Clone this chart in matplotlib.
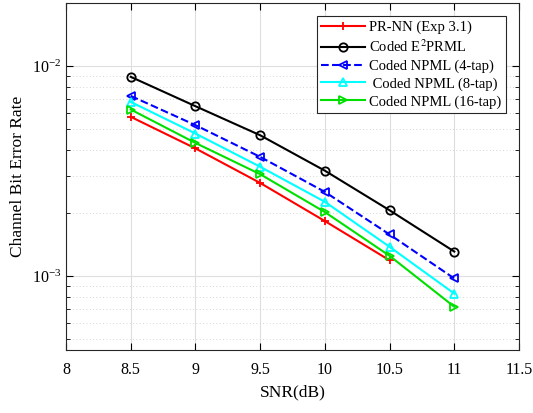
import numpy as np
import matplotlib.pyplot as plt
from matplotlib.ticker import LogLocator, NullFormatter

plt.rcParams['font.family'] = ['Liberation Serif', 'DejaVu Serif']
plt.rcParams['mathtext.fontset'] = 'stix'

snr = [8.5, 9, 9.5, 10, 10.5, 11]
snr_prnn = [8.5, 9, 9.5, 10, 10.5]

ber_prnn = [5.74e-3, 4.06e-3, 2.78e-3, 1.83e-3, 1.19e-3]
ber_e2prml = [8.9e-3, 6.45e-3, 4.69e-3, 3.18e-3, 2.06e-3, 1.31e-3]
ber_npml4 = [7.22e-3, 5.24e-3, 3.70e-3, 2.52e-3, 1.58e-3, 9.75e-4]
ber_npml8 = [6.76e-3, 4.78e-3, 3.32e-3, 2.26e-3, 1.38e-3, 8.26e-4]
ber_npml16 = [6.22e-3, 4.31e-3, 3.06e-3, 2.02e-3, 1.25e-3, 7.15e-4]

fig = plt.figure(figsize=(5.33, 4.13), dpi=100)
ax = fig.add_axes([66/533, 1-350/413, (519-66)/533, (350-3)/413])

ms = 6
lw = 1.5
mew = 1.3
ax.semilogy(snr_prnn, ber_prnn, '-', color='red', marker='+', ms=ms, lw=lw, mew=mew,
            label='PR-NN (Exp 3.1)')
ax.semilogy(snr, ber_e2prml, '-', color='black', marker='o', ms=ms, lw=lw, mew=mew,
            mfc='none', label='Coded E$^{2}$PRML')
ax.semilogy(snr, ber_npml4, '--', color='blue', marker='<', ms=ms, lw=lw, mew=mew,
            mfc='none', label='Coded NPML (4-tap)')
ax.semilogy(snr, ber_npml8, '-', color='cyan', marker='^', ms=ms, lw=lw, mew=mew,
            mfc='none', label=' Coded NPML (8-tap)')
ax.semilogy(snr, ber_npml16, '-', color='#00e000', marker='>', ms=ms, lw=lw, mew=mew,
            mfc='none', label='Coded NPML (16-tap)')

ax.set_xlim(8, 11.5)
ax.set_ylim(4.45e-4, 2e-2)
ax.set_xticks(np.arange(8, 11.51, 0.5))
ax.set_xticklabels(['8', '8.5', '9', '9.5', '10', '10.5', '11', '11.5'])
ax.yaxis.set_minor_locator(LogLocator(base=10, subs=np.arange(2, 10)))
ax.yaxis.set_minor_formatter(NullFormatter())

ax.grid(True, which='major', color='#dedede', lw=0.8, ls='-')
ax.grid(True, which='minor', axis='y', color='#c8c8c8', lw=0.6, ls=(0, (1, 3)))
ax.set_axisbelow(True)

ax.tick_params(which='both', direction='in', top=True, right=True, labelsize=11.5)
ax.tick_params(axis='x', which='major', pad=9)
ax.tick_params(which='major', length=5)
ax.tick_params(which='minor', length=3)
for s in ax.spines.values():
    s.set_color('#262626')
    s.set_linewidth(0.8)

ax.set_xlabel('SNR(dB)', fontsize=12.5, labelpad=4)
ax.set_ylabel('Channel Bit Error Rate', fontsize=12.5)

leg = ax.legend(loc='upper right', fontsize=10.5, fancybox=False, framealpha=1,
                edgecolor='#262626', borderaxespad=0.9, handlelength=3,
                labelspacing=0.3, borderpad=0.3, handletextpad=0.3)
leg.get_frame().set_linewidth(0.8)

fig.savefig('out.png', dpi=100)
